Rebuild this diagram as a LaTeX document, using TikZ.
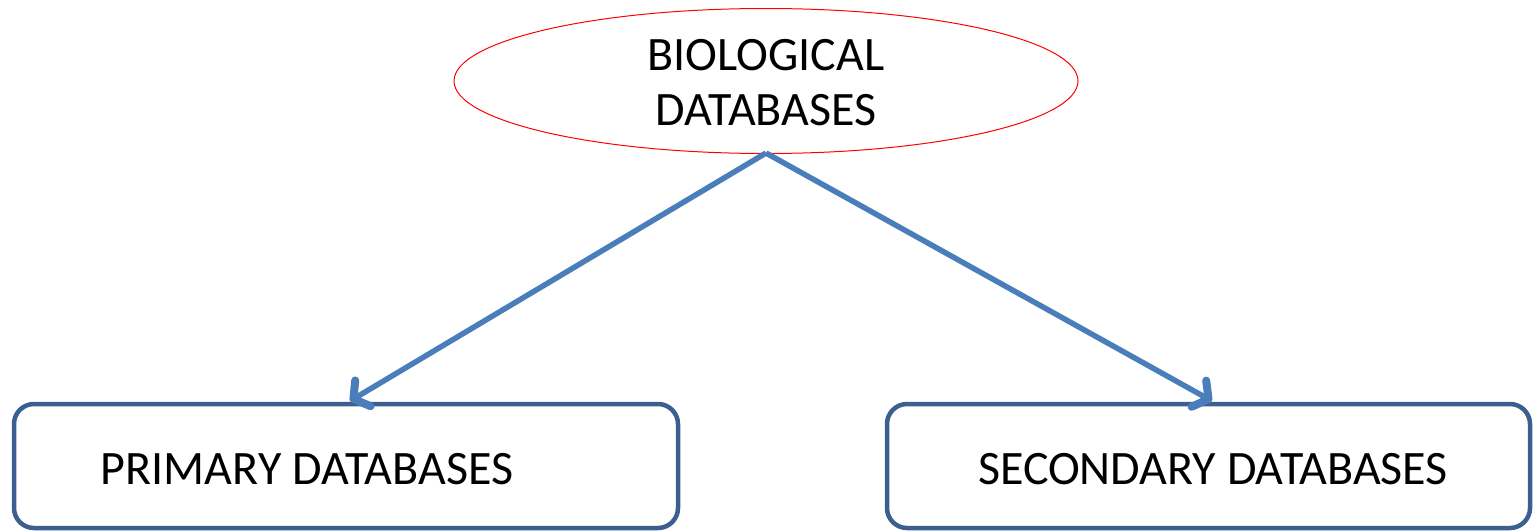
\documentclass[tikz,border=0pt]{standalone}
\usepackage{fontspec}
\setmainfont{Carlito}
\usetikzlibrary{arrows.meta}
\definecolor{linkblue}{HTML}{4A7EBB}
\definecolor{boxblue}{HTML}{3D5F8F}
\begin{document}
\begin{tikzpicture}[x=1pt,y=-1pt,
  label/.style={font=\fontsize{48}{55}\selectfont, align=center, inner sep=0pt},
  dbbox/.style={draw=boxblue, line width=4.5pt, rounded corners=20pt},
  link/.style={draw=linkblue, line width=5.5pt,
    -{Straight Barb[length=11pt,width=30pt,line width=8pt,line cap=round,line join=round]}}]
  \useasboundingbox (0,0) rectangle (1533,530);
  % top ellipse
  \draw[red, line width=1pt] (766,81) ellipse [x radius=312, y radius=72.5];
  \node[label] (top) at (766,83) {BIOLOGICAL\\DATABASES};
  \coordinate (src) at (766,153);
  % boxes
  \draw[dbbox] (14,404) rectangle (678,528);
  \draw[dbbox] (887,404) rectangle (1530,528);
  \coordinate (ltip) at (350,401);
  \coordinate (rtip) at (1212,401);
  \node[label] (prim) at (307,469) {PRIMARY DATABASES};
  \node[label] (sec) at (1213,469) {SECONDARY DATABASES};
  % links
  \draw[link] (src) -- (ltip);
  \draw[link] (src) -- (rtip);
\end{tikzpicture}
\end{document}
